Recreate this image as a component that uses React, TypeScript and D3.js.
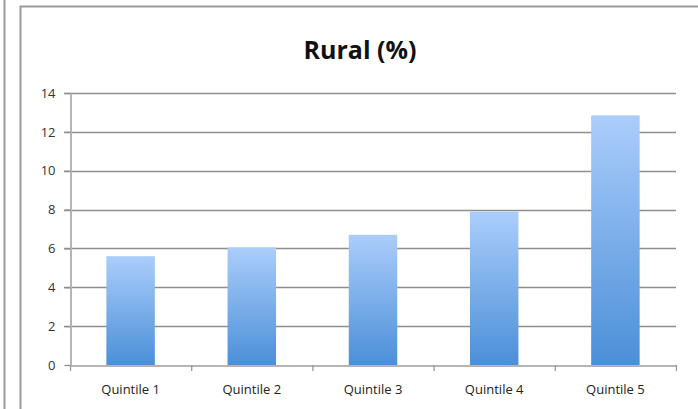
import { useEffect, useRef } from "react";
import * as d3 from "d3";

const categories = ["Quintile 1", "Quintile 2", "Quintile 3", "Quintile 4", "Quintile 5"];
const values = [5.6, 6.05, 6.7, 7.9, 12.85];
const yTicks = [0, 2, 4, 6, 8, 10, 12, 14];
const title = "Rural (%)";

export default function App() {
  const ref = useRef<SVGSVGElement | null>(null);

  useEffect(() => {
    if (!ref.current) return;
    const svg = d3.select(ref.current);
    svg.selectAll("*").remove();

    const width = 698;
    const height = 409;
    const margin = { top: 93, right: 22, bottom: 44, left: 70 };
    const font = "Open Sans, Lato, sans-serif";

    // gradient for bars
    const defs = svg.append("defs");
    const grad = defs.append("linearGradient")
      .attr("id", "barGrad")
      .attr("x1", 0).attr("y1", 0).attr("x2", 0).attr("y2", 1);
    grad.append("stop").attr("offset", "0%").attr("stop-color", "#abcdfb");
    grad.append("stop").attr("offset", "100%").attr("stop-color", "#4b8fd8");

    // neighbouring chart edge + frame
    svg.append("line")
      .attr("x1", 4.5).attr("x2", 4.5).attr("y1", 0).attr("y2", height)
      .attr("stroke", "#9a9a9a").attr("stroke-width", 2);
    svg.append("rect")
      .attr("x", 20.5).attr("y", 6.5)
      .attr("width", width + 10).attr("height", height + 10)
      .attr("fill", "white").attr("stroke", "#9a9a9a").attr("stroke-width", 2);

    const x = d3.scaleBand()
      .domain(categories)
      .range([margin.left, width - margin.right])
      .paddingInner(0.6)
      .paddingOuter(0.3);

    const band = d3.scaleBand()
      .domain(categories)
      .range([margin.left, width - margin.right]);

    const y = d3.scaleLinear()
      .domain([0, 14])
      .range([height - margin.bottom, margin.top]);

    // gridlines
    svg.append("g")
      .selectAll("line")
      .data(yTicks.filter(t => t > 0))
      .enter()
      .append("line")
      .attr("x1", margin.left - 6)
      .attr("x2", width - margin.right)
      .attr("y1", d => Math.round(y(d)) + 0.5)
      .attr("y2", d => Math.round(y(d)) + 0.5)
      .attr("stroke", "#8e8e8e")
      .attr("stroke-width", 1.3);

    // bars
    svg.append("g")
      .selectAll("rect")
      .data(categories)
      .enter()
      .append("rect")
      .attr("x", d => x(d)!)
      .attr("y", (d, i) => y(values[i]))
      .attr("width", x.bandwidth())
      .attr("height", (d, i) => y(0) - y(values[i]))
      .attr("fill", "url(#barGrad)");

    // y axis
    const yAxis = svg.append("g")
      .attr("transform", `translate(${margin.left + 0.5},0)`)
      .call(d3.axisLeft(y).tickValues(yTicks).tickSize(6).tickSizeOuter(0).tickPadding(9));
    yAxis.select(".domain").attr("stroke", "#b5b5b5").attr("stroke-width", 2);
    yAxis.selectAll(".tick line").attr("stroke", "#8e8e8e").attr("stroke-width", 1.3);
    yAxis.selectAll("text")
      .attr("fill", "#333")
      .attr("font-family", font)
      .attr("font-size", 13);

    // x axis
    const xAxis = svg.append("g")
      .attr("transform", `translate(0,${y(0) + 0.5})`)
      .call(d3.axisBottom(band).tickSize(0).tickPadding(19));
    xAxis.select(".domain").attr("stroke", "#b5b5b5").attr("stroke-width", 2);
    xAxis.selectAll("text")
      .attr("fill", "#222")
      .attr("font-family", font)
      .attr("font-size", 13);

    // category boundary ticks
    const bounds = categories.map(c => band(c)!).concat([width - margin.right]);
    svg.append("g")
      .selectAll("line")
      .data(bounds)
      .enter()
      .append("line")
      .attr("x1", d => d + 0.5).attr("x2", d => d + 0.5)
      .attr("y1", y(0)).attr("y2", y(0) + 6)
      .attr("stroke", "#9a9a9a").attr("stroke-width", 1.3);

    // title
    svg.append("text")
      .attr("x", 360)
      .attr("y", 59)
      .attr("text-anchor", "middle")
      .attr("font-family", font)
      .attr("font-weight", "bold")
      .attr("font-size", 25)
      .attr("fill", "#111")
      .text(title);
  }, []);

  return (
    <div style={{ position: "fixed", top: 0, left: 0 }}>
      <svg ref={ref} width={698} height={409} style={{ display: "block" }} />
    </div>
  );
}
